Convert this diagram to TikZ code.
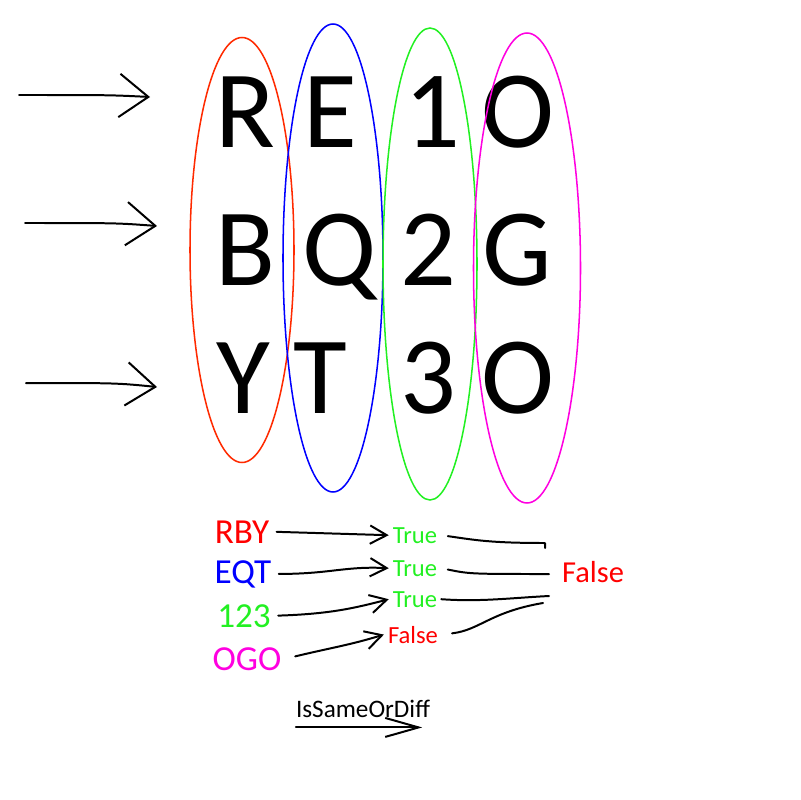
\documentclass[tikz,border=0pt]{standalone}
\usepackage{fontspec}
\setmainfont{Carlito}
\usetikzlibrary{arrows.meta,positioning,shapes.geometric,calc}
\definecolor{InkRed}{HTML}{FF0000}
\definecolor{RingRed}{HTML}{FF2A00}
\definecolor{InkBlue}{HTML}{0000FF}
\definecolor{InkGreen}{HTML}{22F022}
\definecolor{InkMagenta}{HTML}{FF00E0}
\tikzset{
  bigletter/.style={anchor=base,inner sep=0pt,font=\fontsize{94}{94}\selectfont},
  colring/.style={draw=#1,ellipse,line width=1.3pt,inner sep=0pt},
  word/.style={anchor=base,font=\fontsize{30}{30}\selectfont},
  verdict/.style={anchor=base,font=\fontsize{21}{21}\selectfont},
  sketch/.style={line width=1.7pt,line cap=round,line join=round},
  bigtip/.style={-{Straight Barb[length=8.7mm,width=13mm]}},
  smalltip/.style={-{Straight Barb[length=5mm,width=5.5mm]}}
}
\begin{document}
\begin{tikzpicture}[x=0.3mm,y=-0.3mm]
  \useasboundingbox (0,0) rectangle (800,800);
  % letter grid
  \node[bigletter] (c11) at (245,147) {R};
  \node[bigletter] (c12) at (330,147) {E};
  \node[bigletter] (c13) at (432,147) {1};
  \node[bigletter] (c14) at (518,147) {O};
  \node[bigletter] (c21) at (245,285) {B};
  \node[bigletter] (c22) at (340,285) {Q};
  \node[bigletter] (c23) at (428,285) {2};
  \node[bigletter] (c24) at (517,285) {G};
  \node[bigletter] (c31) at (243,413) {Y};
  \node[bigletter] (c32) at (320,413) {T};
  \node[bigletter] (c33) at (428,413) {3};
  \node[bigletter] (c34) at (518,413) {O};
  % column rings
  \node[colring=RingRed,minimum width=31.2mm,minimum height=127.5mm] (ringR) at (242,250) {};
  \node[colring=InkBlue,minimum width=30mm,minimum height=140.4mm] (ringB) at (333,258) {};
  \node[colring=InkGreen,minimum width=28.2mm,minimum height=141.6mm] (ringG) at (430,264) {};
  \node[colring=InkMagenta,minimum width=32.1mm,minimum height=141mm] (ringM) at (527,268) {};
  % row arrows
  \foreach \i/\xa/\ya/\xb/\yb in {1/19/95/150/97,2/25/223/157/226,3/26/383/157/387} {
    \coordinate (tail\i) at (\xa,\ya);
    \coordinate (tip\i) at (\xb,\yb);
    \draw[sketch,bigtip] (tail\i) .. controls (\xb-40,\ya) .. (tip\i);
  }
  % column words
  \node[word,text=InkRed] (rby) at (242,543) {RBY};
  \node[word,text=InkBlue] (eqt) at (243,583) {EQT};
  \node[word,text=InkGreen] (n123) at (244,627) {123};
  \node[word,text=InkMagenta] (ogo) at (247,670) {OGO};
  \node[verdict,text=InkGreen] (t1) at (415,543) {True};
  \node[verdict,text=InkGreen] (t2) at (415,576) {True};
  \node[verdict,text=InkGreen] (t3) at (415,607) {True};
  \node[verdict,text=InkRed] (f4) at (413,643) {False};
  \node[anchor=base,text=InkRed,font=\fontsize{26}{26}\selectfont] (ff) at (593,582) {False};
  \draw[sketch,smalltip,shorten <=1mm] (rby.east) -- (t1.west);
  \draw[sketch,smalltip,shorten <=1mm] (eqt.east) .. controls (330,574) and (345,566) .. (t2.west);
  \draw[sketch,smalltip,shorten <=1mm] (n123.east) .. controls (330,614) and (355,608) .. (t3.west);
  \draw[sketch,smalltip,shorten <=3mm] (ogo.east) .. controls (330,648) and (350,645) .. (f4.west);
  % joins into the result
  \coordinate (j1) at (545,543);
  \coordinate (j2) at (549,574);
  \coordinate (j3) at (549,596);
  \coordinate (j4) at (543,603);
  \draw[sketch,shorten <=2mm] (t1.east) .. controls (475,540) and (490,543) .. (j1) -- ++(0,5);
  \draw[sketch,shorten <=2mm] (t2.east) .. controls (470,574) .. (j2);
  \draw[sketch] (t3.east) .. controls (480,602) and (510,598) .. (j3);
  \draw[sketch,shorten <=3mm] (f4.east) .. controls (480,630) and (490,612) .. (j4);
  % function name
  \node[anchor=base,inner xsep=0pt,inner ysep=3mm,font=\fontsize{21.5}{21.5}\selectfont] (isd) at (363,717) {IsSameOrDiff};
  \draw[sketch,-{Straight Barb[length=10mm,width=5.7mm]},shorten >=2.4mm] (isd.south west) -- (isd.south east);
\end{tikzpicture}
\end{document}
